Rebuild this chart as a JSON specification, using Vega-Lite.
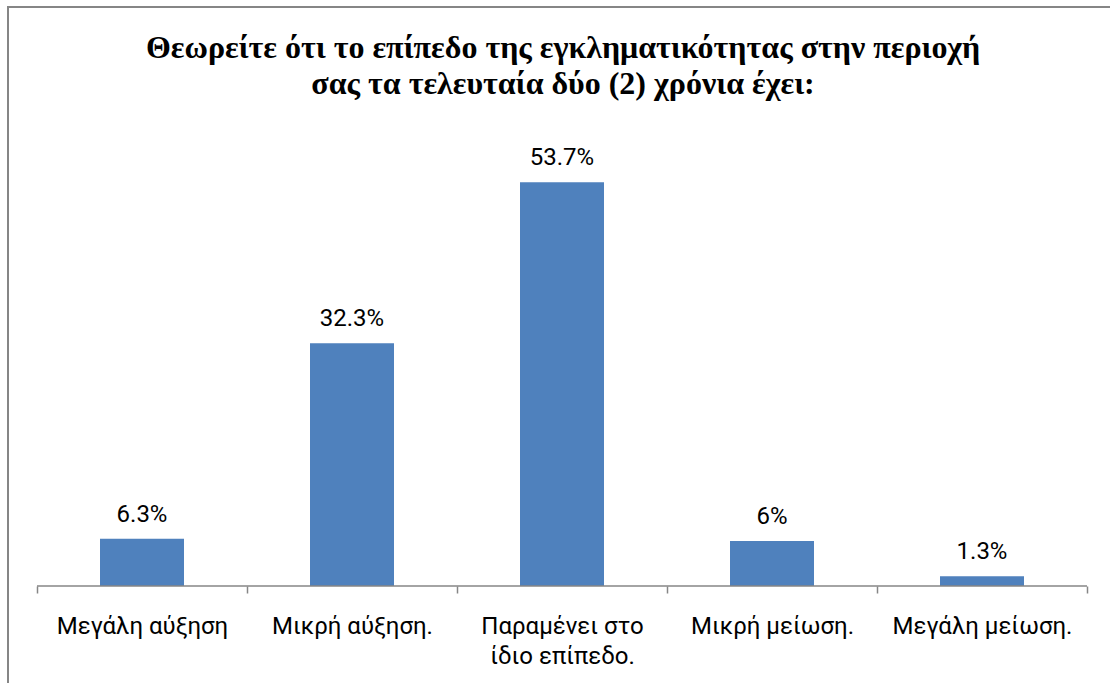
{
  "$schema": "https://vega.github.io/schema/vega-lite/v6.json",
  "autosize": {"type": "none"},
  "padding": {"left": 8, "top": 7, "right": 0, "bottom": 0},
  "width": 1110,
  "height": 690,
  "background": "white",
  "title": {
    "text": ["Θεωρείτε ότι το επίπεδο της εγκληματικότητας στην περιοχή", "σας τα τελευταία δύο (2) χρόνια έχει:"],
    "font": "Liberation Serif",
    "fontSize": 32,
    "fontWeight": "bold",
    "color": "#000000",
    "lineHeight": 36,
    "anchor": "middle",
    "baseline": "top",
    "offset": -94
  },
  "config": {
    "view": {"stroke": "#868686", "strokeWidth": 2},
    "text": {"font": "Roboto"}
  },
  "data": {
    "values": [
      {"cat": "Μεγάλη αύξηση", "value": 0.063},
      {"cat": "Μικρή αύξηση.", "value": 0.323},
      {"cat": "Παραμένει στο ίδιο επίπεδο.", "value": 0.537},
      {"cat": "Μικρή μείωση.", "value": 0.06},
      {"cat": "Μεγάλη μείωση.", "value": 0.013}
    ]
  },
  "encoding": {
    "x": {
      "field": "cat",
      "type": "nominal",
      "sort": null,
      "scale": {"range": [29, 1079], "paddingInner": 0, "paddingOuter": 0},
      "axis": {
        "title": null,
        "domain": false,
        "labelAngle": 0,
        "labelFont": "Roboto",
        "labelFontSize": 24,
        "labelColor": "#000000",
        "labelPadding": 21,
        "labelLineHeight": 30,
        "labelLimit": 0,
        "tickBand": "extent",
        "tickColor": "#868686",
        "tickWidth": 1.5,
        "tickSize": 7,
        "offset": -111,
        "labelExpr": "datum.label == 'Παραμένει στο ίδιο επίπεδο.' ? ['Παραμένει στο', 'ίδιο επίπεδο.'] : datum.label"
      }
    }
  },
  "layer": [
    {
      "mark": {"type": "bar", "color": "#4F81BD", "width": {"band": 0.4}},
      "encoding": {
        "y": {"field": "value", "type": "quantitative", "scale": {"domain": [-0.1476, 0.77], "nice": false, "zero": false}, "axis": null},
        "y2": {"datum": 0}
      }
    },
    {
      "mark": {"type": "rule", "color": "#868686", "strokeWidth": 1.5},
      "encoding": {
        "x": {"field": "cat", "type": "nominal", "sort": null, "bandPosition": 0},
        "x2": {"field": "cat", "bandPosition": 1},
        "y": {"datum": 0, "type": "quantitative"}
      }
    },
    {
      "mark": {"type": "text", "font": "Roboto", "fontSize": 24, "color": "#000000", "baseline": "alphabetic", "dy": -17},
      "encoding": {
        "y": {"field": "value", "type": "quantitative"},
        "text": {"field": "value", "type": "quantitative", "format": ".1~%"}
      }
    }
  ]
}
